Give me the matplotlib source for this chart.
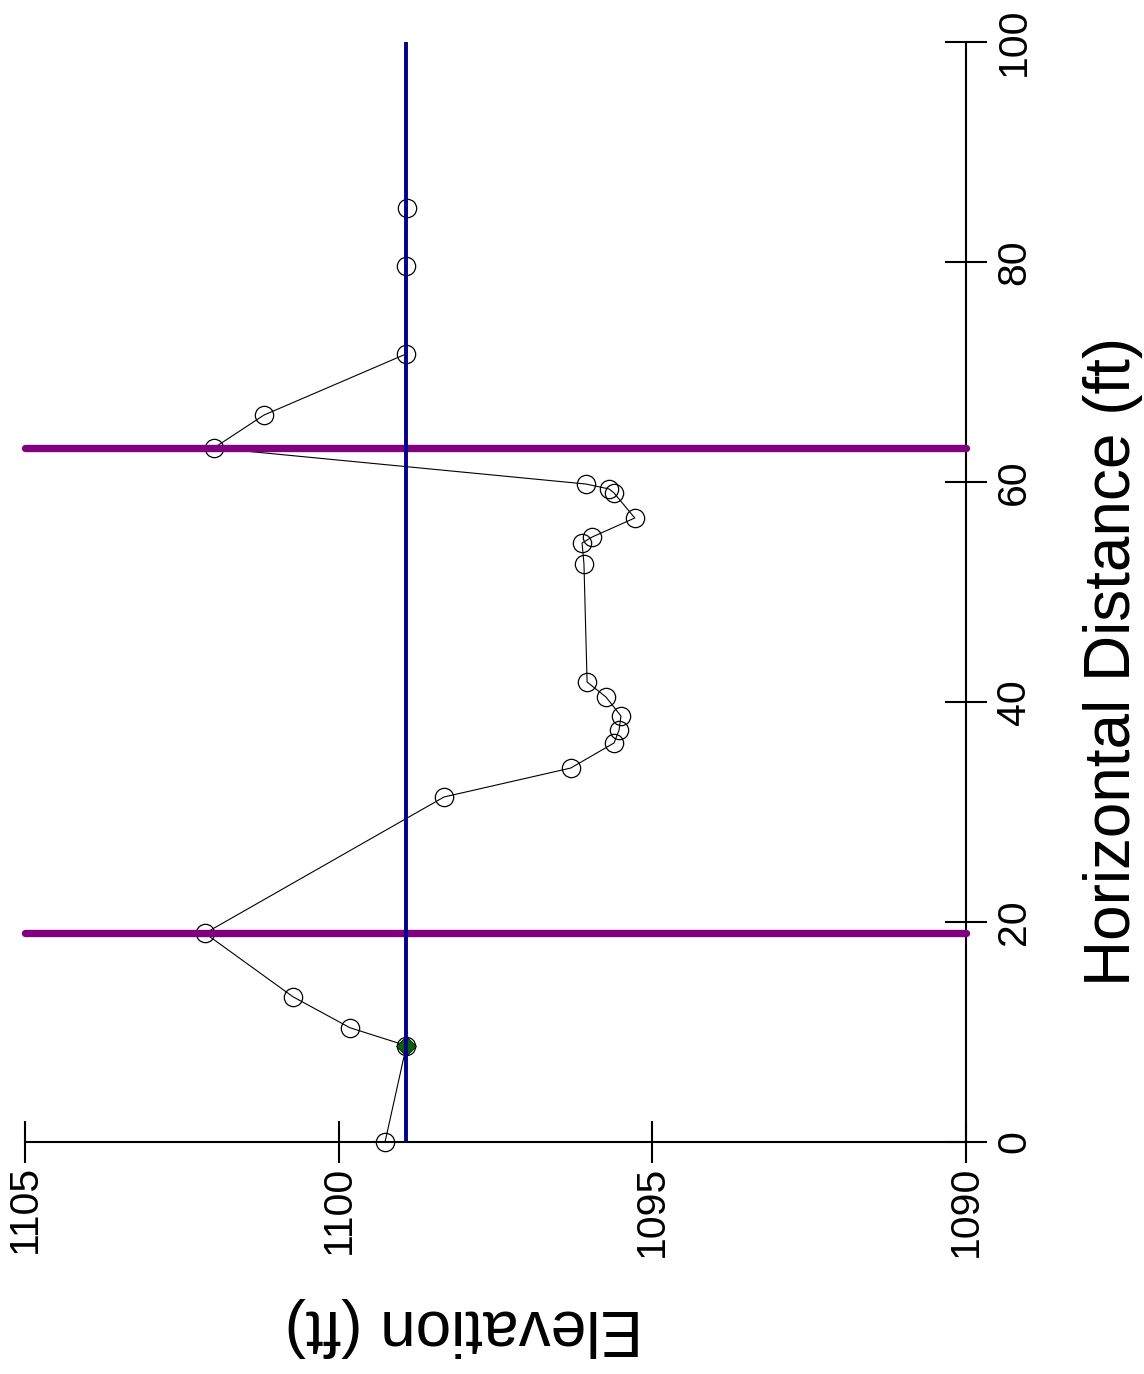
import matplotlib
matplotlib.use("Agg")
import matplotlib.pyplot as plt

plt.rcParams['font.family'] = ['Liberation Sans', 'DejaVu Sans']

# Cross-section survey points
distance = [0.0, 8.73, 10.36, 13.18, 18.95, 31.34, 33.97, 36.25, 37.43, 38.7,
            40.43, 41.79, 52.52, 54.43, 54.97, 56.7, 58.97, 59.34, 59.79,
            63.06, 66.06, 71.6, 79.6, 84.88]
elevation = [1099.26, 1098.92, 1099.82, 1100.73, 1102.13, 1098.32, 1096.30,
             1095.61, 1095.53, 1095.50, 1095.74, 1096.04, 1096.09, 1096.12,
             1095.96, 1095.28, 1095.61, 1095.69, 1096.06, 1101.99, 1101.19,
             1098.93, 1098.93, 1098.91]

water_surface = 1098.92
water_extent = [0, 100]
bank_stations = [18.95, 63.05]
green_point_distance = [8.73]
green_point_elev = [1098.92]

elev_ticks = [1105, 1100, 1095, 1090]
dist_ticks = [0, 20, 40, 60, 80, 100]

W, H = 1144, 1374
fig = plt.figure(figsize=(W / 100, H / 100), dpi=100)
left, right = 25, 966
top, bottom = 41.7, 1141.7
ax = fig.add_axes([left / W, 1 - bottom / H, (right - left) / W, (bottom - top) / H])

ax.set_xlim(1105, 1090)
ax.set_ylim(0, 100)

# survey line with open circles (x=elevation, y=distance; rotated view)
ax.plot(elevation, distance, color='black', lw=0.8, marker='o', ms=13.2,
        mfc='none', mec='black', mew=0.9, clip_on=False, zorder=3)
ax.plot(green_point_elev, green_point_distance, linestyle='none', marker='D',
        ms=10.5, mfc='#006400', mec='black', mew=0.5, clip_on=False, zorder=4)

for b in bank_stations:
    ax.plot([1105, 1090], [b, b], color='#800080', lw=5.3,
            solid_capstyle='round', clip_on=False, zorder=5)

ax.plot([water_surface, water_surface], water_extent, color='#00008B', lw=2.8,
        solid_capstyle='butt', clip_on=False, zorder=6)

for s in ['top', 'left']:
    ax.spines[s].set_visible(False)
for s in ['bottom', 'right']:
    ax.spines[s].set_linewidth(1.5)

ax.yaxis.tick_right()
ax.set_xticks(elev_ticks, [str(t) for t in elev_ticks], rotation=90)
ax.set_yticks(dist_ticks, [str(t) for t in dist_ticks], rotation=90, va='center')
ax.tick_params(axis='x', direction='inout', length=30, width=1.5, pad=2, labelsize=29.5)
ax.tick_params(axis='y', direction='inout', length=30, width=1.5, pad=5.8, labelsize=29.5)

fig.text(464 / W, 1 - 1310 / H, 'Elevation (ft)', rotation=180, rotation_mode='anchor',
         ha='center', va='baseline', fontsize=46)
fig.text(1130 / W, 1 - 661 / H, 'Horizontal Distance (ft)', rotation=90, rotation_mode='anchor',
         ha='center', va='baseline', fontsize=46)

fig.savefig('out.png', dpi=100)
